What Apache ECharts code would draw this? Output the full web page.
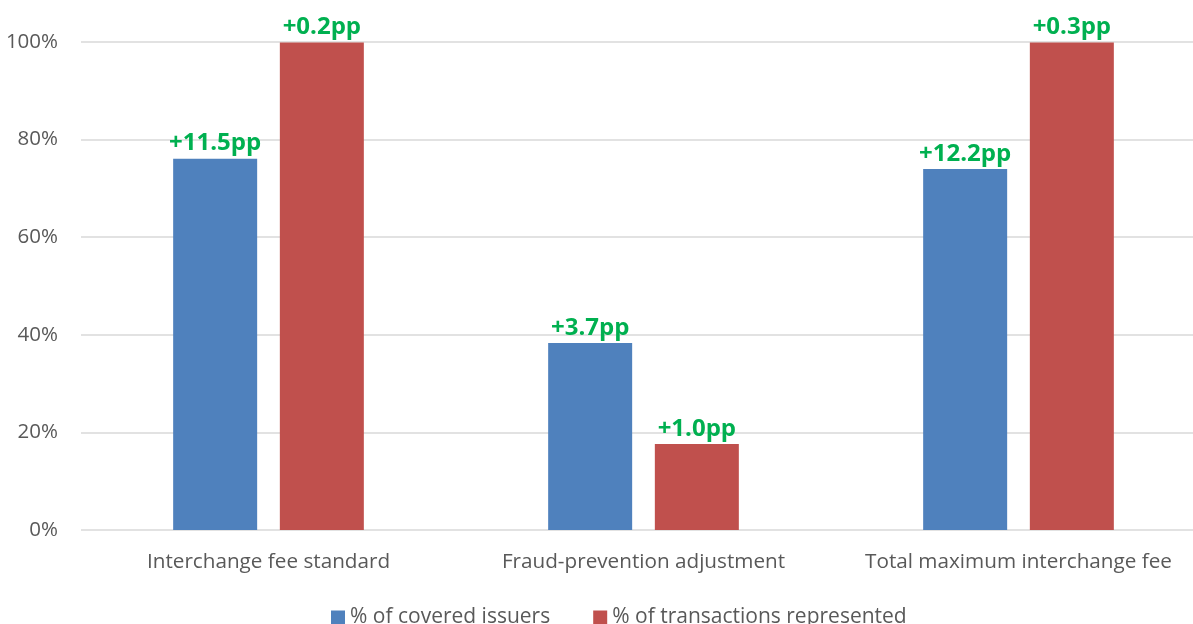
<!DOCTYPE html>
<html><head><meta charset="utf-8">
<script src="https://cdn.jsdelivr.net/npm/echarts@6/dist/echarts.min.js"></script>
<style>html,body{margin:0;padding:0;background:#fff}#c{width:1193px;height:624px}</style>
</head><body><div id="c"></div>
<script>
const categories = ['Interchange fee standard', 'Fraud-prevention adjustment', 'Total maximum interchange fee'];
const issuers = [76.1, 38.3, 74.0];
const transactions = [99.9, 17.6, 99.9];
const issuerLabels = ['+11.5pp', '+3.7pp', '+12.2pp'];
const transactionLabels = ['+0.2pp', '+1.0pp', '+0.3pp'];
const yTicks = [0, 20, 40, 60, 80, 100];

const font = '"Open Sans", sans-serif';
const chart = echarts.init(document.getElementById('c'));
const lbl = arr => ({
  show: true, position: 'top', distance: 3,
  formatter: p => arr[p.dataIndex],
  color: '#00B050', fontWeight: 'bold', fontSize: 24, fontFamily: font
});
chart.setOption({
  animation: false,
  grid: {left: 81, right: -13, top: 42, bottom: 94, containLabel: false, outerBoundsMode: 'none'},
  legend: {
    bottom: -9, left: 326, itemWidth: 14, itemHeight: 14, itemGap: 43, itemTextGap: 5,
    icon: 'rect',
    textStyle: {color: '#595959', fontSize: 21, fontFamily: font},
    data: ['% of covered issuers', '% of transactions represented']
  },
  xAxis: {
    type: 'category', data: categories,
    axisLine: {show: false}, axisTick: {show: false},
    axisLabel: {color: '#595959', fontSize: 20.7, fontFamily: font, margin: 22, interval: 0, hideOverlap: false}
  },
  yAxis: {
    type: 'value', min: yTicks[0], max: yTicks[yTicks.length - 1], interval: 20,
    axisLine: {show: false}, axisTick: {show: false},
    axisLabel: {color: '#595959', fontSize: 20.5, fontFamily: font, margin: 23, formatter: v => v + '%'},
    splitLine: {lineStyle: {color: '#d9d9d9', width: 1.5}}
  },
  series: [
    {name: '% of covered issuers', type: 'bar', data: issuers, barWidth: 84, barGap: '27%',
     itemStyle: {color: '#4F81BD'}, label: lbl(issuerLabels)},
    {name: '% of transactions represented', type: 'bar', data: transactions, barWidth: 84,
     itemStyle: {color: '#C0504D'}, label: lbl(transactionLabels)}
  ]
});
</script></body></html>
